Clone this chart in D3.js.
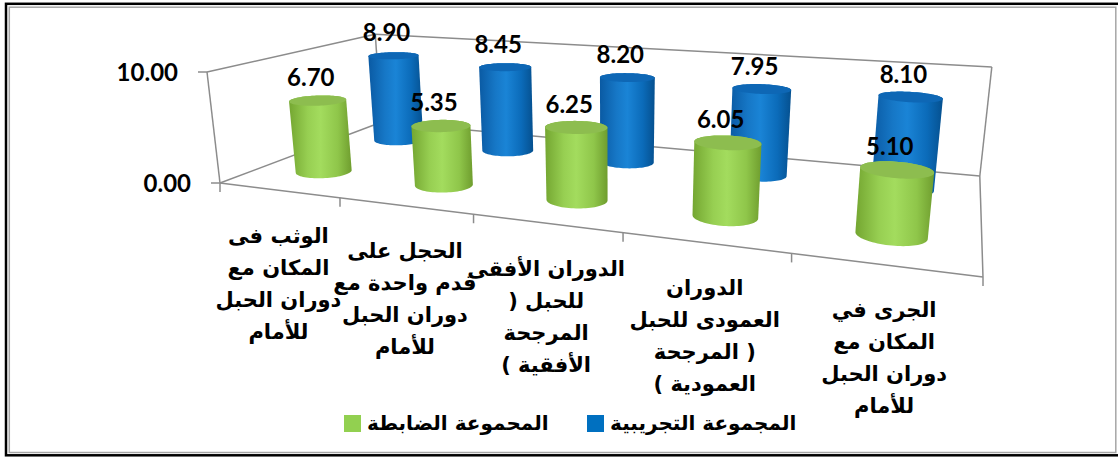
<!DOCTYPE html>
<html>
<head>
<meta charset="utf-8">
<script src="https://cdnjs.cloudflare.com/ajax/libs/d3/7.8.5/d3.min.js"></script>
<style>
body { margin: 0; background: #fff; }
svg { display: block; }
.val { font-family: Lato, "Open Sans", sans-serif; font-weight: 700; font-size: 24px; fill: #000; }
.cat { font-family: "DejaVu Sans", sans-serif; font-weight: bold; font-size: 21px; fill: #000; }
.leg { font-family: "DejaVu Sans", sans-serif; font-weight: bold; font-size: 20px; fill: #000; }
</style>
</head>
<body>
<div id="chart"></div>
<script>
// category labels, split into the lines shown under each pair of cylinders
var categories = [
    ["الوثب فى", "المكان مع", "دوران الحبل", "للأمام"],
    ["الحجل على", "قدم واحدة مع", "دوران الحبل", "للأمام"],
    ["الدوران الأفقى", "للحبل (", "المرجحة", "الأفقية )"],
    ["الدوران", "العمودى للحبل", "( المرجحة", "العمودية )"],
    ["الجرى في", "المكان مع", "دوران الحبل", "للأمام"]
];
var seriesNames = ["المحموعة الضابطة", "المجموعة التجريبية"];
var controlValues = [6.70, 5.35, 6.25, 6.05, 5.10];
var experimentalValues = [8.90, 8.45, 8.20, 7.95, 8.10];
var valueTicks = [0, 10];

var svgWidth = 1118;
var svgHeight = 457;

var svg = d3.select("#chart")
    .append("svg")
    .attr("width", svgWidth)
    .attr("height", svgHeight);

svg.append("rect").attr("width", svgWidth).attr("height", svgHeight).attr("fill", "#fff");

// frame round the picture
svg.append("rect")
    .attr("x", 6).attr("y", 3.8)
    .attr("width", 1130).attr("height", 451.5)
    .attr("fill", "none").attr("stroke", "#000").attr("stroke-width", 2.5);
svg.append("rect")
    .attr("x", 9.3).attr("y", 7.2)
    .attr("width", 1106.5).attr("height", 445.3)
    .attr("fill", "none").attr("stroke", "#a6a6a6").attr("stroke-width", 1.5);

// world scales: x = categories, y = value, z = depth (series rows)
var xScale = d3.scaleBand().domain(d3.range(categories.length)).range([0, 5]);
var zScale = d3.scaleBand().domain([0, 1]).range([0, 1]);
var yScale = d3.scaleLinear().domain([0, 10]).range([0, 10]);

// perspective camera (3x4 matrix) fitted to the box of the original
var P = [
    [102.762, -1.965, 265.43, 220],
    [4.7562, -11.3315, -27.29, 183],
    [-0.0507, -0.003215, 0.27333, 1]
];
function project(X, Y, Z) {
    var u = P[0][0] * X + P[0][1] * Y + P[0][2] * Z + P[0][3];
    var v = P[1][0] * X + P[1][1] * Y + P[1][2] * Z + P[1][3];
    var w = P[2][0] * X + P[2][1] * Y + P[2][2] * Z + P[2][3];
    return [u / w, v / w];
}

var x0 = xScale.range()[0], x1 = xScale.range()[1];
var z0 = zScale.range()[0], z1 = zScale.range()[1];
var yMax = yScale(d3.max(valueTicks));

// walls and floor edges
var edges = [
    [[x0, 0, z0], [x1, 0, z0]],
    [[x1, 0, z0], [x1, 0, z1]],
    [[x0, 0, z0], [x0, 0, z1]],
    [[x0, 0, z1], [x1, 0, z1]],
    [[x0, 0, z0], [x0, yMax, z0]],
    [[x0, yMax, z0], [x0, yMax, z1]],
    [[x0, 0, z1], [x0, yMax, z1]],
    [[x0, yMax, z1], [x1, yMax, z1]],
    [[x1, 0, z1], [x1, yMax, z1]]
];
var grid = svg.append("g").attr("stroke", "#8c8c8c").attr("stroke-width", 1.5).attr("fill", "none");
edges.forEach(function(e) {
    var a = project.apply(null, e[0]), b = project.apply(null, e[1]);
    grid.append("line").attr("x1", a[0]).attr("y1", a[1]).attr("x2", b[0]).attr("y2", b[1]);
});

// value axis ticks + labels
valueTicks.forEach(function(t) {
    var p = project(x0, yScale(t), z0);
    grid.append("line").attr("x1", p[0] - 9).attr("y1", p[1]).attr("x2", p[0]).attr("y2", p[1]);
    svg.append("text").attr("class", "val")
        .attr("x", p[0] - 29).attr("y", p[1])
        .attr("text-anchor", "end").attr("dy", "0.36em")
        .text(d3.format(".2f")(t));
});

// category ticks on the front floor edge
d3.range(categories.length + 1).forEach(function(i) {
    var p = project(i === categories.length ? x1 : xScale(i), 0, z0);
    grid.append("line").attr("x1", p[0]).attr("y1", p[1]).attr("x2", p[0]).attr("y2", p[1] + 9);
});

// gradients for the cylinder sides
var defs = svg.append("defs");
var colors = [
    { side: ["#74a631", "#97cf52", "#a3dc5e", "#8fc64a", "#6f9d2e"], top: "#8dbd4f", legend: "#92d050" },
    { side: ["#0a5aa3", "#1677c6", "#1a84d6", "#0b6bb9", "#05508f"], top: "#0e67b5", legend: "#0070c0" }
];
colors.forEach(function(c, s) {
    var g = defs.append("linearGradient").attr("id", "side" + s)
        .attr("x1", "0").attr("x2", "1").attr("y1", "0").attr("y2", "0");
    [0, 0.3, 0.5, 0.78, 1].forEach(function(o, k) {
        g.append("stop").attr("offset", o).attr("stop-color", c.side[k]);
    });
});

var series = [controlValues, experimentalValues];
var rx = 0.205, rz = 0.09;
var steps = d3.range(0, 2 * Math.PI, Math.PI / 40);
var line = d3.line();
var cyl = svg.append("g");
var labels = [];

// back row first, then the front row
[1, 0].forEach(function(s) {
    series[s].forEach(function(v, i) {
        var cx = xScale(i) + xScale.bandwidth() / 2;
        var cz = zScale(s) + zScale.bandwidth() / 2;
        var h = yScale(v);
        var bottom = steps.map(function(a) { return project(cx + rx * Math.cos(a), 0, cz + rz * Math.sin(a)); });
        var top = steps.map(function(a) { return project(cx + rx * Math.cos(a), h, cz + rz * Math.sin(a)); });
        var hull = d3.polygonHull(bottom.concat(top));
        cyl.append("path").attr("d", line(hull) + "Z").attr("fill", "url(#side" + s + ")");
        cyl.append("path").attr("d", line(top) + "Z").attr("fill", colors[s].top);
        var p = project(cx, h, cz);
        labels.push({ x: p[0] - 7, y: p[1] - 23, v: v });
    });
});

svg.selectAll("text.lbl")
    .data(labels)
    .enter()
    .append("text")
    .attr("class", "val lbl")
    .attr("x", d => d.x)
    .attr("y", d => d.y)
    .attr("text-anchor", "middle")
    .attr("dy", "0.36em")
    .text(d => d3.format(".2f")(d.v));

// category labels under the front edge
categories.forEach(function(lines, i) {
    var p = project(xScale(i) + xScale.bandwidth() / 2, 0, z0);
    var t = svg.append("text").attr("class", "cat")
        .attr("direction", "rtl")
        .attr("text-anchor", "middle");
    lines.forEach(function(l, k) {
        t.append("tspan").attr("x", p[0]).attr("y", p[1] + 45 + k * 32).attr("dy", "0.36em").text(l);
    });
});

// legend
var legendX = [344, 587];
var leg = svg.append("g");
seriesNames.forEach(function(name, s) {
    leg.append("rect").attr("x", legendX[s]).attr("y", 415).attr("width", 17).attr("height", 17)
        .attr("fill", colors[s].legend);
    leg.append("text").attr("class", "leg")
        .attr("x", legendX[s] + 23).attr("y", 423).attr("dy", "0.36em")
        .text(name);
});
</script>
</body>
</html>
